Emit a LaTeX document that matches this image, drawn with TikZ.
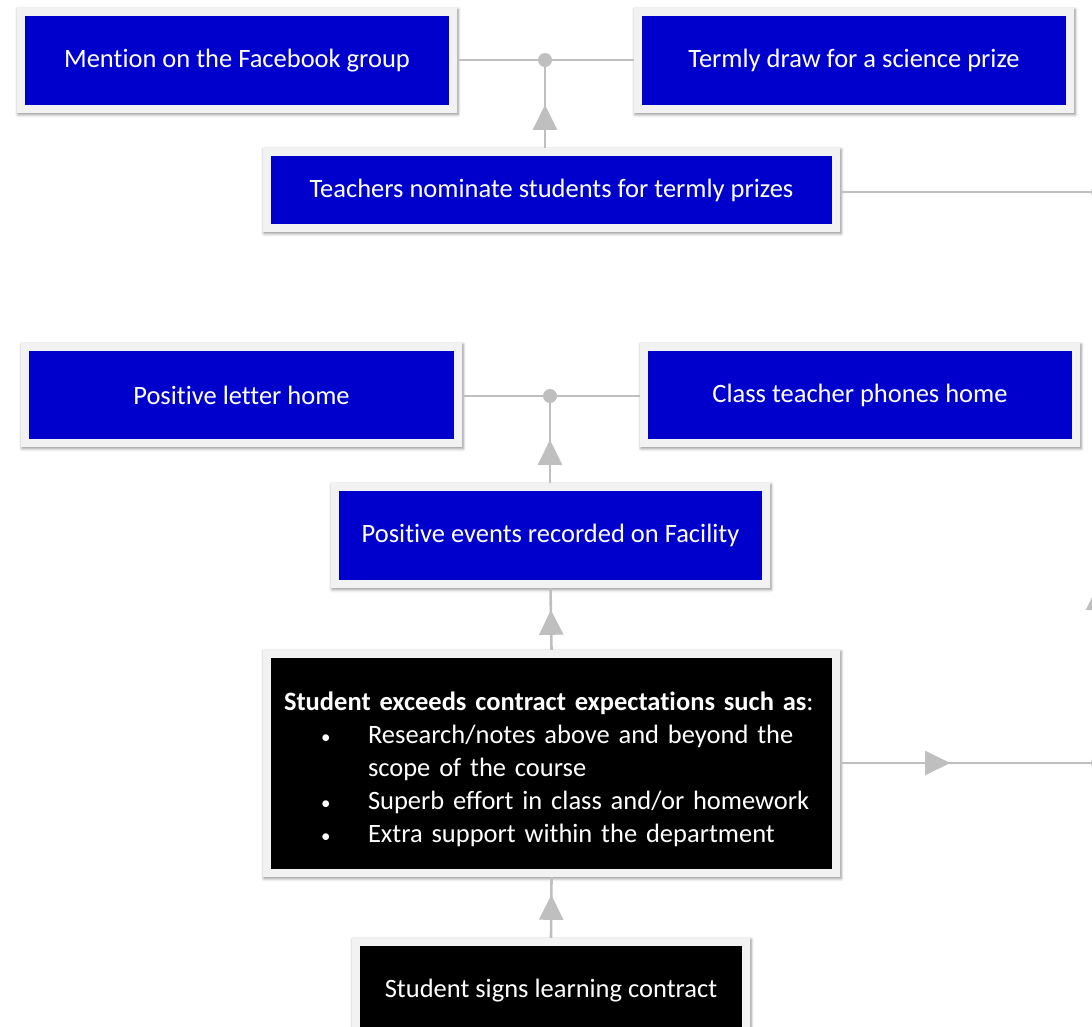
\documentclass[tikz,border=0pt]{standalone}
\usepackage{fontspec}
\setmainfont{Carlito}[Ligatures=NoCommon]
\usetikzlibrary{arrows.meta,decorations.markings,shadows.blur}
\definecolor{boxblue}{RGB}{0,0,204}
\definecolor{framegray}{RGB}{242,242,242}
\definecolor{conngray}{RGB}{191,191,191}
\newcommand{\smbullet}{{\fontsize{19}{19}\selectfont\textbullet}}
\tikzset{
  framebox/.style={rectangle, inner sep=0pt, fill=framegray,
    blur shadow={shadow xshift=1pt, shadow yshift=-1.5pt, shadow blur radius=3pt, shadow opacity=45},
    text=white, font=\fontsize{26.5}{33}\selectfont,
    path picture={\fill[#1] ([xshift=8pt,yshift=-8pt]path picture bounding box.north west)
      rectangle ([xshift=-8pt,yshift=8pt]path picture bounding box.south east);}},
  bluebox/.style={framebox=boxblue},
  blackbox/.style={framebox=black},
  conn/.style={draw=conngray, line width=2pt},
  vconn/.style={draw=conngray, line width=2.6pt},
  tipat/.style={postaction={decorate, decoration={markings,
    mark=at position #1 with {\arrow{Triangle[length=25pt,width=24pt]}}}}},
  dot/.style={fill=conngray},
}
\begin{document}
\begin{tikzpicture}[x=1pt,y=-1pt, conngray]
\useasboundingbox (0,0) rectangle (1092,1026);
\clip (0,0) rectangle (1092,1026);
% nodes
\node[bluebox, minimum width=440pt, minimum height=105pt] (b1) at (237,60.5) {Mention on the Facebook group};
\node[bluebox, minimum width=440pt, minimum height=105pt] (b2) at (854,60.5) {Termly draw for a science prize};
\node[bluebox, minimum width=577pt, minimum height=84pt] (b3) at (551.5,190) {Teachers nominate students for termly prizes};
\node[bluebox, minimum width=441pt, minimum height=104pt] (b4) at (241.5,395) {Positive letter home};
\node[bluebox, minimum width=440pt, minimum height=104pt] (b5) at (860,395) {Class teacher phones home};
\node[bluebox, minimum width=439pt, minimum height=105pt] (b6) at (550.5,535.5) {Positive events recorded on Facility};
\node[blackbox, minimum width=577pt, minimum height=227pt, text width=535pt, align=left] (b7) at (551.5,763.5) {\rule{0pt}{30pt}\textbf{Student exceeds contract expectations such as}:\\
\hspace*{37pt}\makebox[47pt][l]{\smbullet}Research/notes above and beyond the\\
\hspace*{84pt}scope of the course\\
\hspace*{37pt}\makebox[47pt][l]{\smbullet}Superb effort in class and/or homework\\
\hspace*{37pt}\makebox[47pt][l]{\smbullet}Extra support within the department};
\node[blackbox, minimum width=398pt, minimum height=105pt] (b8) at (551,990.5) {Student signs learning contract};
% junctions
\coordinate (j1) at (545,60);
\coordinate (j2) at (550,396);
\coordinate (r1) at (1098,192);
\coordinate (r2) at (1098,763);
% connectors
\draw[conn] (b1.east |- j1) -- (j1) -- (b2.west |- j1);
\draw[vconn, tipat=43pt] (b3.north -| j1) -- (j1);
\fill[dot] (j1) circle[radius=7pt];
\draw[conn] (b4.east |- j2) -- (j2) -- (b5.west |- j2);
\draw[vconn, tipat=43pt] (b6.north -| j2) -- (j2);
\fill[dot] (j2) circle[radius=7pt];
\draw[vconn, tipat=40pt] (b7.north) -- (b6.south);
\draw[vconn, tipat=43pt] (b8.north) -- (b7.south);
\draw[conn] (b3.east |- r1) -- (r1);
\draw[conn, tipat=110pt] (b7.east |- r2) -- (r2);
\draw[vconn, tipat=178pt] (r2) -- (r1);
\fill[dot] (r1) circle[radius=7pt];
\fill[dot] (r2) circle[radius=7pt];
\end{tikzpicture}
\end{document}
